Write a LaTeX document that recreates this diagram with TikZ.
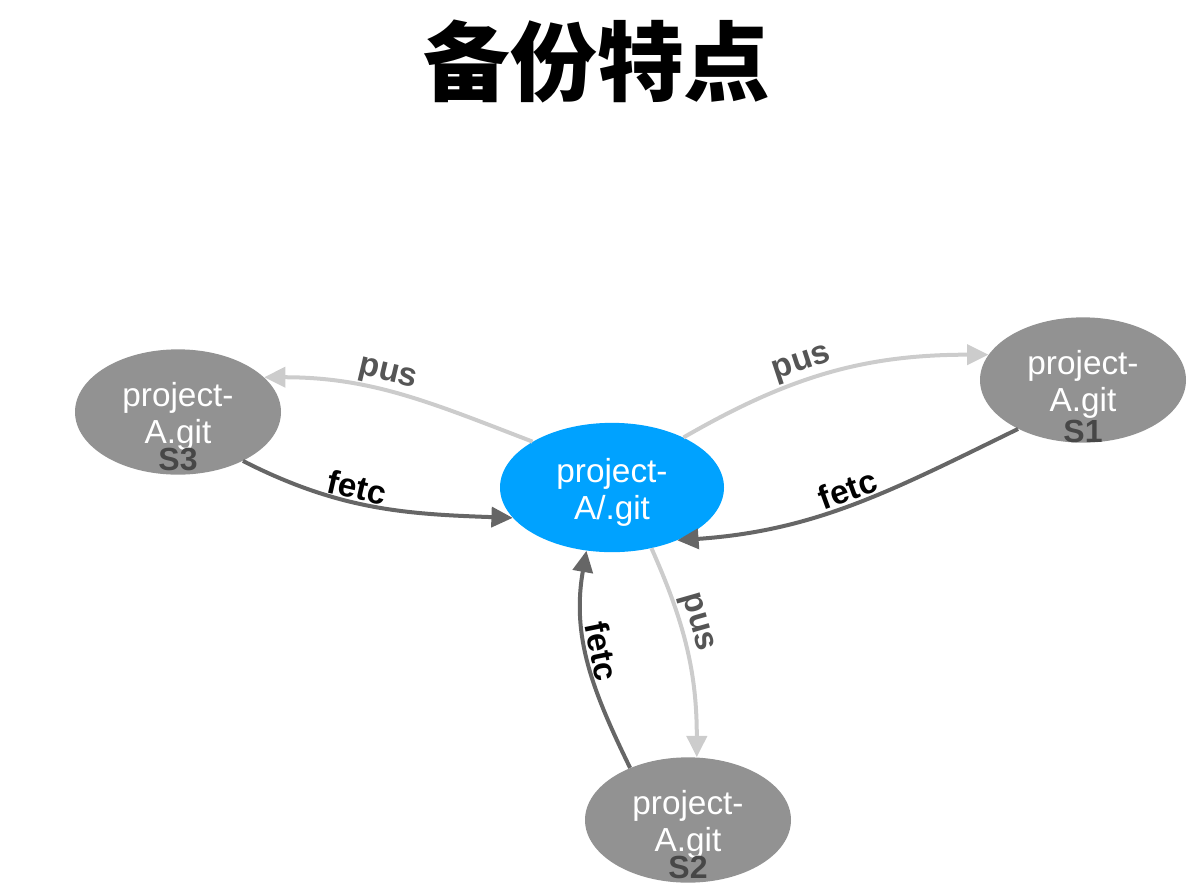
\documentclass[tikz,border=0pt]{standalone}
\usepackage{fontspec}
\setmainfont{Liberation Sans}
\newfontfamily\cjk{Noto Sans CJK SC}
\usepackage{tikz}
\usetikzlibrary{shapes, arrows.meta, positioning}
\definecolor{repogray}{HTML}{929292}
\definecolor{localblue}{HTML}{00A2FF}
\definecolor{pushgray}{HTML}{CCCCCC}
\definecolor{fetchgray}{HTML}{666666}
\definecolor{labelgray}{HTML}{555555}
\definecolor{servergray}{HTML}{474747}
\newcommand{\repolines}[1]{\rule{0pt}{25pt}project-\\#1}
\tikzstyle{headline} = [font=\cjk\bfseries\fontsize{65}{70}\selectfont, inner sep=0pt]
\tikzstyle{repo} = [ellipse, fill=repogray, text=white, align=center, inner sep=0pt, minimum width=154.5pt, minimum height=94pt, font=\fontsize{25}{28}\selectfont]
\tikzstyle{local} = [repo, fill=localblue, minimum width=168pt, minimum height=97pt]
\tikzstyle{servername} = [text=servergray, inner sep=0pt, font=\bfseries\fontsize{24}{28}\selectfont]
\tikzstyle{pushline} = [draw=pushgray, line width=3pt, -{Triangle[length=16pt,width=15pt]}]
\tikzstyle{fetchline} = [pushline, draw=fetchgray]
\tikzstyle{pushlabel} = [text=labelgray, inner sep=1pt, font=\bfseries\fontsize{25}{28}\selectfont]
\tikzstyle{fetchlabel} = [pushlabel, text=black]

\begin{document}
\begin{tikzpicture}[x=0.75pt, y=-0.75pt]
	\useasboundingbox (0,0) rectangle (1197,890);
	\node[headline, anchor=base] (title) at (597,94) {备份特点};
	% repositories
	\node[local] (work) at (612,487.5) {\repolines{A/.git}};
	\node[repo] (s1) at (1083,380) {\repolines{A.git}};
	\node[repo] (s2) at (688,820) {\repolines{A.git}};
	\node[repo] (s3) at (178,412) {\repolines{A.git}};
	\node[servername, below=30pt] (s1name) at (s1.center) {S1};
	\node[servername, below=27pt] (s2name) at (s2.center) {S2};
	\node[servername, below=27pt] (s3name) at (s3.center) {S3};
	% push / fetch
	\draw[pushline] (work.150) to[out=159, in=0] node[pushlabel, pos=0.57, sloped, above] (p3) {pus} (s3.22);
	\draw[fetchline] (s3.323) to[out=-27, in=178] node[fetchlabel, pos=0.42, sloped, above] (f3) {fetc} (work.197);
	\draw[pushline] (work.35) to[out=30, in=180] node[pushlabel, pos=0.42, sloped, above] (p1) {pus} (s1.165);
	\draw[fetchline] (s1.217) to[out=206, in=4] node[fetchlabel, pos=0.5, sloped, above] (f1) {fetc} (work.321);
	\draw[pushline] (work.303) to[out=-66, in=90] node[pushlabel, pos=0.38, sloped, above] (p2) {pus} (s2.82);
	\draw[fetchline] (s2.138) to[out=116, in=-100] node[fetchlabel, pos=0.54, sloped, above] (f2) {fetc} (work.248);
\end{tikzpicture}
\end{document}
